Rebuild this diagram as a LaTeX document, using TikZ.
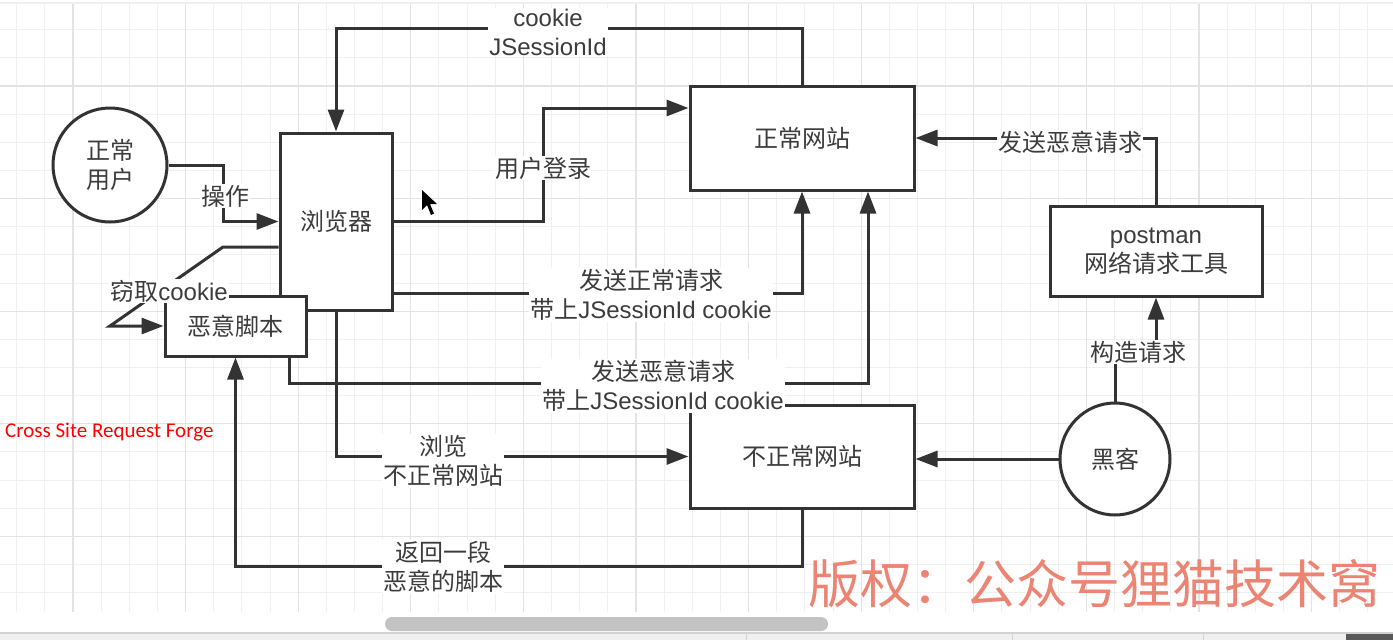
\documentclass[tikz,border=0pt]{standalone}
\usepackage{fontspec}
\setmainfont{Liberation Sans}
\newfontfamily\cjk{Noto Sans CJK SC}
\newfontfamily\calib{Carlito}
\usetikzlibrary{arrows.meta,shapes.geometric}
\definecolor{ink}{HTML}{333333}
\definecolor{txt}{HTML}{3C3C3C}
\definecolor{gridminor}{HTML}{F0F0F0}
\definecolor{gridmajor}{HTML}{E3E3E3}
\definecolor{wmark}{RGB}{236,132,116}
\definecolor{barfill}{HTML}{C3C3C3}
\begin{document}
\begin{tikzpicture}[x=1pt,y=-1pt,
  base/.style={text=txt,font=\fontsize{24}{29}\selectfont,align=center},
  box/.style={base,draw=ink,line width=3pt,fill=white,inner sep=0pt},
  rectbox/.style={box,rectangle},
  roundbox/.style={box,ellipse},
  conn/.style={draw=ink,line width=3pt},
  arr/.style={conn,-{Triangle[length=22pt,width=16pt]}},
  lbl/.style={base,fill=white,inner sep=1pt},
  minorline/.style={draw=gridminor,line width=1pt},
  majorline/.style={draw=gridmajor,line width=1.2pt},
]
\useasboundingbox (0,0) rectangle (1393,640);
\clip (0,0) rectangle (1393,640);
\fill[white] (0,0) rectangle (1393,640);

% background grid
\foreach \k in {-3,...,47} {
  \pgfmathsetmacro\gx{73+28.15*\k}
  \draw[minorline] (\gx,4) -- (\gx,612);
}
\foreach \k in {-2,...,18} {
  \pgfmathsetmacro\gy{86+28.15*\k}
  \draw[minorline] (0,\gy) -- (1393,\gy);
}
\foreach \k in {0,...,11} {
  \pgfmathsetmacro\gx{73+112.6*\k}
  \draw[majorline] (\gx,4) -- (\gx,612);
}
\foreach \k in {0,...,4} {
  \pgfmathsetmacro\gy{86+112.6*\k}
  \draw[majorline] (0,\gy) -- (1393,\gy);
}

% window chrome: top rule, scrollbar, status strip
\draw[draw=gridmajor!80!black!20,line width=2pt] (0,3) -- (1393,3);
\fill[barfill] (385,617) [rounded corners=7pt] rectangle (828,631);
\fill[gray!12] (0,633) rectangle (1393,640);
\draw[gray!35,line width=1.5pt] (0,633) -- (1393,633);
\foreach \dx in {746,1012,1203} \draw[gray!35,line width=1pt] (\dx,633) -- (\dx,640);
\fill[gray!70!black] (1346,634) rectangle (1393,640);

% nodes
\node[roundbox,minimum width=114pt,minimum height=114pt] (user) at (110,165) {{\cjk 正常}\\{\cjk 用户}};
\node[rectbox,minimum width=112pt,minimum height=177pt] (browser) at (336,221.5) {\cjk 浏览器};
\node[rectbox,minimum width=141pt,minimum height=60pt] (script) at (235.5,326) {\cjk 恶意脚本};
\node[rectbox,minimum width=224pt,minimum height=104pt] (normal) at (802,138) {\cjk 正常网站};
\node[rectbox,minimum width=224pt,minimum height=103pt] (bad) at (802,456.5) {\cjk 不正常网站};
\node[rectbox,minimum width=212pt,minimum height=90pt] (postman) at (1156,251) {postman\\{\cjk 网络请求工具}};
\node[roundbox,minimum width=110pt,minimum height=112pt] (hacker) at (1115,459) {\cjk 黑客};

% helper points for the orthogonal connectors
\coordinate (loginx) at (543,108);
\coordinate (stealA) at (223,247);
\coordinate (stealB) at (110,326);
\coordinate (opx) at (223,221.5);
\coordinate (okreq) at (802,293);
\coordinate (badA) at (289,383);
\coordinate (badB) at (868,383);
\coordinate (construct) at (1136,352);

% connectors
\draw[arr] (normal.north) -- ++(0,-56) -| (browser.north);
\draw[arr] (browser.east) -| (loginx) -- (normal.west |- loginx);
\draw[arr] (user.east) -| (opx) -- (browser.west);
\draw[arr] (browser.west |- stealA) -- (stealA) -- (stealB) -- (script.west);
\draw[arr] (browser.east |- okreq) -- (okreq) -- (normal.south);
\draw[arr] (script.south -| badA) -- (badA) -- (badB) -- (normal.south -| badB);
\draw[arr] (browser.south) |- (bad.west);
\draw[arr] (bad.south) -- ++(0,57) -| (script.south);
\draw[arr] (hacker.west) -- (bad.east |- hacker.west);
\draw[arr] (hacker.north) |- (construct) -| (postman.south);
\draw[arr] (postman.north) |- (normal.east);

% connector labels
\node[lbl] (lcookie) at (548,32) {cookie\\JSessionId};
\node[lbl] (llogin) at (543,168) {\cjk 用户登录};
\node[lbl] (lop) at (225,196) {\cjk 操作};
\node[lbl] (lsteal) at (169,291) {{\cjk 窃取}cookie};
\node[lbl] (lok) at (651,295) {{\cjk 发送正常请求}\\{\cjk 带上}JSessionId cookie};
\node[lbl] (lbad) at (663,386) {{\cjk 发送恶意请求}\\{\cjk 带上}JSessionId cookie};
\node[lbl] (lbrowse) at (443,461) {{\cjk 浏览}\\{\cjk 不正常网站}};
\node[lbl] (lreturn) at (443,567) {{\cjk 返回一段}\\{\cjk 恶意的脚本}};
\node[lbl] (lsend) at (1070,142) {\cjk 发送恶意请求};
\node[lbl] (lconstruct) at (1138,352) {\cjk 构造请求};

% mouse pointer
\fill[black] (422,190) -- (422,210) -- (427,205) -- (431,215) -- (434,213.5) -- (430,204) -- (437,204) -- cycle;

% side note and watermark
\node[anchor=west,text=red,font=\calib\fontsize{21}{25}\selectfont,inner sep=0pt] (note) at (5,432) {Cross Site Request Forge};
\node[anchor=west,text=wmark,font=\cjk\fontsize{52}{58}\selectfont,inner sep=0pt] (wm) at (808,584) {版权：公众号狸猫技术窝};
\end{tikzpicture}
\end{document}
